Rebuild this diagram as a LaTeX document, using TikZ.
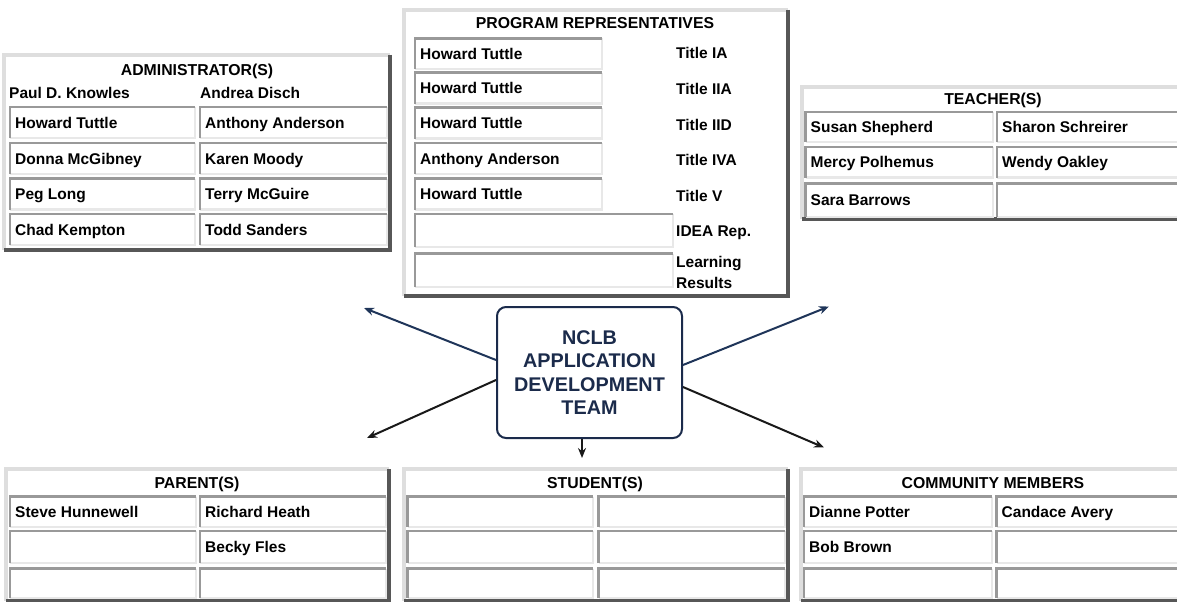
\documentclass[tikz,border=0pt]{standalone}
\usepackage{fontspec}
\setmainfont{Liberation Sans}
\usepackage{tikz}
\usetikzlibrary{arrows.meta}
\definecolor{navy}{HTML}{1B2B4B}
\definecolor{navyline}{HTML}{1F3559}
\newcommand{\tableframe}[4]{
    \fill[white] (#1,#2) rectangle (#3,#4);
    \draw[framelight] (#1,#4) -- (#1,#2) -- (#3,#2);
    \draw[framedark] (#3,#2) -- (#3,#4) -- (#1,#4);
}
\newcommand{\tabcell}[6]{
    \draw[celllight] (#4,#3) -- (#4,#5) -- (#2,#5);
    \draw[celldark] (#2,#5) -- (#2,#3) -- (#4,#3);
    \node[celltext] (#1) at (#2+5,{(#3+#5)/2}) {#6};
}

\begin{document}
\begin{tikzpicture}[x=1pt,y=-1pt,
        framelight/.style={draw=black!13,line width=4pt},
        framedark/.style={draw=black!66,line width=3.5pt},
        celllight/.style={draw=black!9,line width=2.5pt},
        celldark/.style={draw=black!40,line width=2.5pt},
        celltext/.style={anchor=west,inner sep=0pt,text height=11pt,text depth=0pt,
            font=\fontsize{15.5}{18}\selectfont\bfseries},
        headtext/.style={inner sep=0pt,text height=11pt,text depth=0pt,
            font=\fontsize{15.8}{18}\selectfont\bfseries},
        teambox/.style={draw=navy,fill=white,line width=2pt,rounded corners=9pt,
            minimum width=185pt,minimum height=131pt,inner sep=0pt,align=center,
            text=navy,font=\fontsize{19.8}{23.6}\selectfont\bfseries},
        navyarrow/.style={draw=navyline,line width=2pt,-{Stealth[length=10pt,width=8pt]}},
        blackarrow/.style={draw=black!90,line width=2pt,-{Stealth[length=10pt,width=8pt]}}]
    \useasboundingbox (0,0) rectangle (1177,602);

    % administrators
    \tableframe{4}{55}{390}{250}
    \node[headtext] (admhead) at (197,70) {ADMINISTRATOR(S)};
    \node[celltext] (adma) at (9,93) {Paul D. Knowles};
    \node[celltext] (admb) at (200,93) {Andrea Disch};
    \tabcell{adm1a}{10}{107}{195}{138}{Howard Tuttle}
    \tabcell{adm1b}{200}{107}{387}{138}{Anthony Anderson}
    \tabcell{adm2a}{10}{143}{195}{174}{Donna McGibney}
    \tabcell{adm2b}{200}{143}{387}{174}{Karen Moody}
    \tabcell{adm3a}{10}{178.5}{195}{209.5}{Peg Long}
    \tabcell{adm3b}{200}{178.5}{387}{209.5}{Terry McGuire}
    \tabcell{adm4a}{10}{214}{195}{245}{Chad Kempton}
    \tabcell{adm4b}{200}{214}{387}{245}{Todd Sanders}

    % program representatives
    \tableframe{404}{10}{788}{296}
    \node[headtext] (prghead) at (595,23) {PROGRAM REPRESENTATIVES};
    \tabcell{prg1}{415}{38.5}{602}{69}{Howard Tuttle}
    \tabcell{prg2}{415}{72.5}{602}{103.5}{Howard Tuttle}
    \tabcell{prg3}{415}{107.5}{602}{138.5}{Howard Tuttle}
    \tabcell{prg4}{415}{143}{602}{174}{Anthony Anderson}
    \tabcell{prg5}{415}{178.5}{602}{209.5}{Howard Tuttle}
    \tabcell{prg6}{415}{214}{673}{247}{}
    \tabcell{prg7}{415}{253.5}{673}{287}{}
    \node[celltext] (ttl1) at (676,53.5) {Title IA};
    \node[celltext] (ttl2) at (676,88.5) {Title IIA};
    \node[celltext] (ttl3) at (676,124.5) {Title IID};
    \node[celltext] (ttl4) at (676,160) {Title IVA};
    \node[celltext] (ttl5) at (676,195.5) {Title V};
    \node[celltext] (ttl6) at (676,230.5) {IDEA Rep.};
    \node[anchor=west,inner sep=0pt,align=left,
        font=\fontsize{15.5}{21}\selectfont\bfseries] (ttl7) at (676,272.5) {Learning\\Results};

    % teachers
    \tableframe{802}{87}{1186}{219}
    \node[headtext] (tchhead) at (993,98.5) {TEACHER(S)};
    \tabcell{tch1a}{805.5}{112}{993}{142}{Susan Shepherd}
    \tabcell{tch1b}{997}{112}{1180}{142}{Sharon Schreirer}
    \tabcell{tch2a}{805.5}{147}{993}{177.5}{Mercy Polhemus}
    \tabcell{tch2b}{997}{147}{1180}{177.5}{Wendy Oakley}
    \tabcell{tch3a}{805.5}{183.5}{993}{217}{Sara Barrows}
    \tabcell{tch3b}{997}{183.5}{1180}{217}{}

    % parents
    \tableframe{6}{469}{389}{600.5}
    \node[headtext] (parhead) at (197,483) {PARENT(S)};
    \tabcell{par1a}{10}{496.5}{196}{527}{Steve Hunnewell}
    \tabcell{par1b}{200}{496.5}{386}{527}{Richard Heath}
    \tabcell{par2a}{10}{531}{196}{563}{}
    \tabcell{par2b}{200}{531}{386}{563}{Becky Fles}
    \tabcell{par3a}{10}{568.5}{196}{598}{}
    \tabcell{par3b}{200}{568.5}{386}{598}{}

    % students
    \tableframe{404}{469}{788}{600.5}
    \node[headtext] (stuhead) at (595,483) {STUDENT(S)};
    \tabcell{stu1a}{407.5}{496.5}{593}{527}{}
    \tabcell{stu1b}{598.5}{496.5}{785}{527}{}
    \tabcell{stu2a}{407.5}{531}{593}{563}{}
    \tabcell{stu2b}{598.5}{531}{785}{563}{}
    \tabcell{stu3a}{407.5}{568.5}{593}{598}{}
    \tabcell{stu3b}{598.5}{568.5}{785}{598}{}

    % community members
    \tableframe{801}{469}{1186}{600.5}
    \node[headtext] (comhead) at (993,483) {COMMUNITY MEMBERS};
    \tabcell{com1a}{804}{496.5}{992}{527}{Dianne Potter}
    \tabcell{com1b}{996.5}{496.5}{1180}{527}{Candace Avery}
    \tabcell{com2a}{804}{531}{992}{563}{Bob Brown}
    \tabcell{com2b}{996.5}{531}{1180}{563}{}
    \tabcell{com3a}{804}{568.5}{992}{598}{}
    \tabcell{com3b}{996.5}{568.5}{1180}{598}{}

    % team and arrows
    \node[teambox] (team) at (589.5,372.5) {NCLB\\APPLICATION\\DEVELOPMENT\\TEAM};
    \coordinate (admtip) at (364,308);
    \coordinate (tchtip) at (829,306.5);
    \coordinate (partip) at (367,438);
    \coordinate (comtip) at (824,447.5);
    \coordinate (stutip) at (582,458);
    \draw[navyarrow] ([yshift=12.5pt]team.west) -- (admtip);
    \draw[navyarrow] ([yshift=7.5pt]team.east) -- (tchtip);
    \draw[blackarrow] ([yshift=-7.5pt]team.west) -- (partip);
    \draw[blackarrow] ([yshift=-14.5pt]team.east) -- (comtip);
    \draw[blackarrow] ([xshift=-7.5pt]team.south) -- (stutip);
\end{tikzpicture}
\end{document}
